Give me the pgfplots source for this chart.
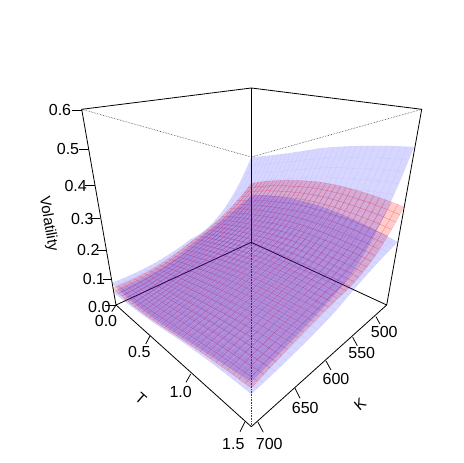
\documentclass[border=0pt]{standalone}
\usepackage{fontspec}
\setmainfont{Liberation Sans}
\usepackage{pgfplots}
\usepackage{pgfplotstable}
\pgfplotsset{compat=1.18}
\usepgfplotslibrary{patchplots}
\pgfplotstableread{
T K V
0 700 .082
0 650 .087
0 600 .120
0 550 .180
0 500 .354
.375 700 .076
.375 650 .107
.375 600 .143
.375 550 .214
.375 500 .396
.75 700 .088
.75 650 .128
.75 600 .169
.75 550 .252
.75 500 .444
1.125 700 .108
1.125 650 .146
1.125 600 .189
1.125 550 .282
1.125 500 .480
1.5 700 .129
1.5 650 .162
1.5 600 .204
1.5 550 .303
1.5 500 .505
}\upperband
\pgfplotstableread{
T K V
0 700 .064
0 650 .070
0 600 .109
0 550 .160
0 500 .250
.375 700 .064
.375 650 .097
.375 600 .141
.375 550 .197
.375 500 .300
.75 700 .080
.75 650 .121
.75 600 .166
.75 550 .222
.75 500 .333
1.125 700 .099
1.125 650 .138
1.125 600 .178
1.125 550 .229
1.125 500 .343
1.5 700 .112
1.5 650 .150
1.5 600 .180
1.5 550 .222
1.5 500 .334
}\midsurface
\pgfplotstableread{
T K V
0 700 .049
0 650 .054
0 600 .093
0 550 .144
0 500 .198
.375 700 .056
.375 650 .078
.375 600 .123
.375 550 .177
.375 500 .237
.75 700 .073
.75 650 .094
.75 600 .139
.75 550 .195
.75 500 .252
1.125 700 .089
1.125 650 .107
1.125 600 .146
1.125 550 .197
1.125 500 .246
1.5 700 .095
1.5 650 .114
1.5 600 .144
1.5 550 .190
1.5 500 .223
}\lowerband
\newcommand\Wexpr{(1-0.308*(\thisrow{T}/1.5-(700-\thisrow{K})/200)-0.195*\thisrow{V}/0.6)}
\newcommand\Xexpr{251.3+136*(\thisrow{T}/1.5+(700-\thisrow{K})/200-1)/\Wexpr}
\newcommand\Yexpr{(305-10.2*(\thisrow{T}/1.5-(700-\thisrow{K})/200)-216.5*\thisrow{V}/0.6)/\Wexpr}
\pgfplotsset{
  surface patch/.style n args={4}{
    patch, patch type=biquadratic, patch refines=4, shader=faceted,
    table/row sep=\\,
    patch table={
      0 10 12 2 5 11 7 1 6\\
      10 20 22 12 15 21 17 11 16\\
      2 12 14 4 7 13 9 3 8\\
      12 22 24 14 17 23 19 13 18\\
    },
    colormap={c#3}{color(0)=(#1) color(1)=(#1)},
    point meta=0.5, point meta min=0, point meta max=1,
    fill opacity=#2, draw opacity=#4,
    faceted color=#1, line width=0.25pt,
  },
}
\begin{document}
\begin{tikzpicture}
\begin{axis}[
  hide axis, scale only axis, width=463pt, height=463pt,
  xmin=0, xmax=463, ymin=0, ymax=463, y dir=reverse, clip=false,
]
\path (axis cs:0,0) rectangle (axis cs:463,463);
% hidden box edges
\addplot[black!75, line width=0.6pt, densely dotted] coordinates {(81.7,109.3) (251.3,157) (421.7,109.3)};
\addplot[black!75, line width=0.6pt, densely dotted] coordinates {(251.3,157) (251.3,426.7)};
% box
\addplot[black, line width=0.8pt] coordinates {(116,305) (81.7,109.3) (251.3,88) (421.7,109.3) (386.7,305) (251.3,426.7) (116,305) (251.3,242.3) (386.7,305)};
\addplot[black, line width=0.8pt] coordinates {(251.3,88) (251.3,242.3)};
% surfaces
\addplot[surface patch={red}{0.2}{b}{0.22}] table[x expr=\Xexpr, y expr=\Yexpr] {\midsurface};
\addplot[surface patch={blue}{0.16}{a}{0.02}] table[x expr=\Xexpr, y expr=\Yexpr] {\lowerband};
\addplot[surface patch={blue}{0.16}{c}{0.02}] table[x expr=\Xexpr, y expr=\Yexpr] {\upperband};
% ticks
\foreach \a/\b/\c/\d in {72/110/82/110,79/149/88.6/149,85/185/94.5/185,91/218/100/218,97/250/106/250,103/279/112/279,105/305/116/305,
  116/305/111.7/311.7,150/336/145.7/344,190.7/374/186/382.3,245/421.7/240/431.7,
  376/316.7/380/324,352.7/337.3/357.3/345.7,326/361/331/370,295/388.3/300/398.3,257.7/421.7/263.3/432.3}{
  \edef\tmp{\noexpand\addplot[black, line width=0.8pt] coordinates {(\a,\b) (\c,\d)};}\tmp
}
\foreach \x/\y/\t in {60/110/0.6,68/149/0.5,75.7/185.7/0.4,82.3/219/0.3,88.3/250/0.2,94/279.3/0.1,99.3/306.7/0.0,
  106/321/0.0,139.3/352/0.5,180.7/392/1.0,233.3/444/1.5,
  384.3/331.7/500,361.7/353.3/550,336/378.7/600,305.3/408.3/650,269.3/444/700}{
  \edef\tmp{\noexpand\node[font=\noexpand\fontsize{16}{16}\noexpand\selectfont, inner sep=0pt] at (axis cs:\x,\y) {\t};}\tmp
}
\node[font=\fontsize{15}{15}\selectfont, inner sep=0pt, rotate=-80.4] at (axis cs:48.3,224) {Volatility};
\node[font=\fontsize{15}{15}\selectfont, inner sep=0pt, rotate=-41] at (axis cs:141,399) {T};
\node[font=\fontsize{15}{15}\selectfont, inner sep=0pt, rotate=41] at (axis cs:360,404) {K};
\end{axis}
\end{tikzpicture}
\end{document}
